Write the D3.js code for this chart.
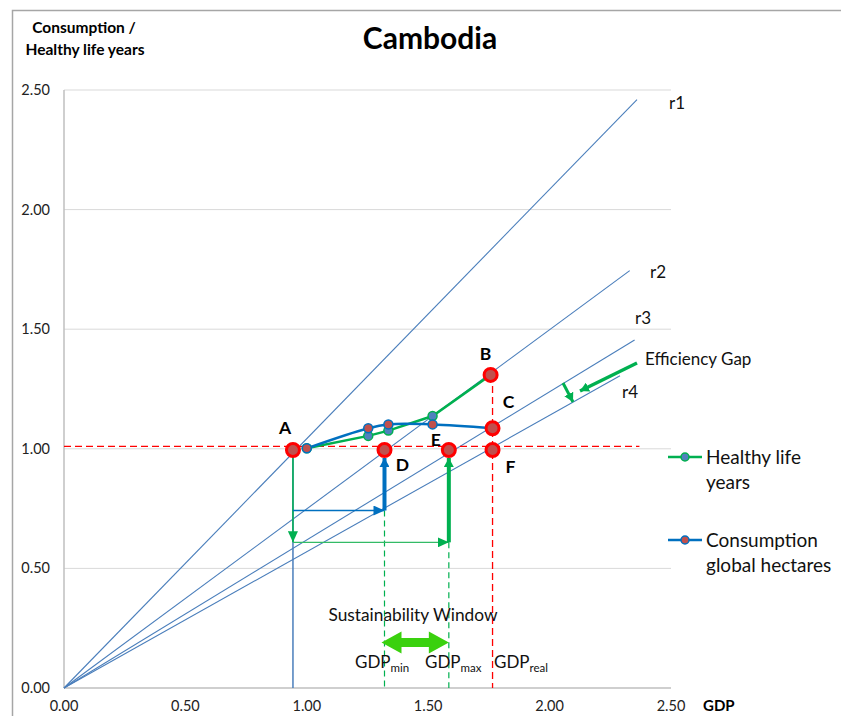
<!DOCTYPE html>
<html><head><meta charset="utf-8">
<script src="https://cdn.jsdelivr.net/npm/d3@7"></script>
<style>
body{margin:0;background:#fff;}
svg{display:block;font-family:Lato,"Open Sans",sans-serif;}
</style></head>
<body><svg id="c" width="841" height="716"></svg>
<script>
// ---- data ----
const xTicks = [0, 0.5, 1, 1.5, 2, 2.5];
const yTicks = [0, 0.5, 1, 1.5, 2, 2.5];
const rayNames = ["r1", "r2", "r3", "r4"];
const rayEndX = [2.36, 2.33, 2.35, 2.29];
const rayEndY = [2.46, 1.745, 1.455, 1.305];
const healthyX = [1.0, 1.253, 1.336, 1.518, 1.757];
const healthyY = [1.002, 1.054, 1.076, 1.137, 1.309];
const consX = [1.0, 1.253, 1.336, 1.518, 1.765];
const consY = [1.002, 1.086, 1.102, 1.102, 1.086];
const pointNames = ["A", "B", "C", "D", "E", "F"];
const pointX = [0.943, 1.757, 1.765, 1.32, 1.585, 1.765];
const pointY = [0.995, 1.309, 1.086, 0.995, 0.995, 0.995];
const refY = 1.01, refXEnd = 2.37;
const gdpA = 0.943, gdpMin = 1.32, gdpMax = 1.585, gdpReal = 1.765;
const blueStepY = 0.742, greenStepY = 0.609;
const seriesNames = ["Healthy life years", "Consumption global hectares"];

// ---- layout ----
const svg = d3.select("#c");
const x = d3.scaleLinear().domain([0, 2.5]).range([64, 671]);
const y = d3.scaleLinear().domain([0, 2.5]).range([688, 90]);
const BLUE = "#4a7ebb", GREEN = "#00b050", DBLUE = "#0070c0", RED = "#ff0000";

// outer border
svg.append("path").attr("d", "M12.5,716 V10.5 H841").attr("fill", "none").attr("stroke", "#a6a6a6").attr("stroke-width", 1.5);

// defs markers
const defs = svg.append("defs");
function mk(id, color, w, h) {
  defs.append("marker").attr("id", id).attr("viewBox", `0 0 ${w} ${h}`)
    .attr("refX", w).attr("refY", h / 2).attr("markerWidth", w).attr("markerHeight", h)
    .attr("markerUnits", "userSpaceOnUse").attr("orient", "auto")
    .append("path").attr("d", `M0,0 L${w},${h/2} L0,${h} Z`).attr("fill", color);
}
mk("abl", DBLUE, 11, 10);
mk("agr", GREEN, 11, 10);
mk("ablT", DBLUE, 9, 10);
mk("agrT", GREEN, 9, 10);

// gridlines
svg.append("g").selectAll("line").data(yTicks.filter(d => d > 0)).join("line")
  .attr("x1", x(0)).attr("x2", x(2.5)).attr("y1", d => y(d)).attr("y2", d => y(d))
  .attr("stroke", "#d9d9d9").attr("stroke-width", 1);
// axes lines
svg.append("line").attr("x1", x(0)).attr("x2", x(0)).attr("y1", y(0)).attr("y2", y(2.5)).attr("stroke", "#bfbfbf").attr("stroke-width", 1.5);
svg.append("line").attr("x1", x(0)).attr("x2", x(2.5)).attr("y1", y(0)).attr("y2", y(0)).attr("stroke", "#bfbfbf").attr("stroke-width", 1.5);

// tick labels
svg.append("g").selectAll("text").data(yTicks).join("text")
  .attr("x", 50).attr("y", d => y(d)).attr("dy", "0.35em").attr("text-anchor", "end")
  .attr("font-size", 14.5).attr("fill", "#222").text(d => d.toFixed(2));
svg.append("g").selectAll("text").data(xTicks).join("text")
  .attr("x", d => x(d)).attr("y", 706).attr("dy", "0.35em").attr("text-anchor", "middle")
  .attr("font-size", 14.5).attr("fill", "#222").text(d => d.toFixed(2));

// titles
svg.append("text").attr("x", 430).attr("y", 49).attr("text-anchor", "middle").attr("font-size", 30).attr("font-weight", "bold").text("Cambodia");
svg.append("text").attr("x", 84).attr("y", 33).attr("text-anchor", "middle").attr("font-size", 15.5).attr("font-weight", "bold").text("Consumption /");
svg.append("text").attr("x", 85).attr("y", 55).attr("text-anchor", "middle").attr("font-size", 15.5).attr("font-weight", "bold").text("Healthy life years");
svg.append("text").attr("x", 703).attr("y", 711).attr("font-size", 15).attr("font-weight", "bold").text("GDP");

// rays
rayNames.forEach((n, i) => {
  svg.append("line").attr("x1", x(0)).attr("y1", y(0)).attr("x2", x(rayEndX[i])).attr("y2", y(rayEndY[i]))
    .attr("stroke", BLUE).attr("stroke-width", 1.1);
});
const rayLabelPos = [[669, 109], [650, 278], [635, 324], [622, 398]];
rayNames.forEach((n, i) => {
  svg.append("text").attr("x", rayLabelPos[i][0]).attr("y", rayLabelPos[i][1]).attr("font-size", 17).attr("fill", "#111").text(n);
});

// efficiency gap
svg.append("text").attr("x", 645).attr("y", 365).attr("font-size", 17).attr("fill", "#111").text("Efficiency Gap");
svg.append("line").attr("x1", 637).attr("y1", 363).attr("x2", 580).attr("y2", 391).attr("stroke", GREEN).attr("stroke-width", 3.5).attr("marker-end", "url(#agrT)");
svg.append("line").attr("x1", 563).attr("y1", 383).attr("x2", 573).attr("y2", 402).attr("stroke", GREEN).attr("stroke-width", 3).attr("marker-end", "url(#agrT)");

// red dashed reference lines
svg.append("line").attr("x1", x(0)).attr("x2", x(refXEnd)).attr("y1", y(refY)).attr("y2", y(refY))
  .attr("stroke", RED).attr("stroke-width", 1.3).attr("stroke-dasharray", "7,4");
svg.append("line").attr("x1", x(gdpReal)).attr("x2", x(gdpReal)).attr("y1", y(pointY[1])).attr("y2", y(0))
  .attr("stroke", RED).attr("stroke-width", 1.3).attr("stroke-dasharray", "7,4");

// green dashed GDPmin / GDPmax
svg.append("line").attr("x1", x(gdpMin)).attr("x2", x(gdpMin)).attr("y1", y(blueStepY)).attr("y2", y(0))
  .attr("stroke", GREEN).attr("stroke-width", 1.2).attr("stroke-dasharray", "6,4");
svg.append("line").attr("x1", x(gdpMax)).attr("x2", x(gdpMax)).attr("y1", y(greenStepY)).attr("y2", y(0))
  .attr("stroke", GREEN).attr("stroke-width", 1.2).attr("stroke-dasharray", "6,4");

// vertical from A to axis (blue) and green down arrow
svg.append("line").attr("x1", x(gdpA)).attr("x2", x(gdpA)).attr("y1", y(pointY[0])).attr("y2", y(0)).attr("stroke", BLUE).attr("stroke-width", 1.5);
svg.append("line").attr("x1", x(gdpA)).attr("x2", x(gdpA)).attr("y1", y(pointY[0])).attr("y2", y(greenStepY)).attr("stroke", GREEN).attr("stroke-width", 1.5).attr("marker-end", "url(#agr)");
// horizontal arrows
svg.append("line").attr("x1", x(gdpA)).attr("x2", x(gdpMin)).attr("y1", y(blueStepY)).attr("y2", y(blueStepY)).attr("stroke", DBLUE).attr("stroke-width", 1.3).attr("marker-end", "url(#abl)");
svg.append("line").attr("x1", x(gdpA)).attr("x2", x(gdpMax)).attr("y1", y(greenStepY)).attr("y2", y(greenStepY)).attr("stroke", "#33bb66").attr("stroke-width", 1.3).attr("marker-end", "url(#agr)");
// thick vertical arrows
svg.append("line").attr("x1", x(gdpMin)).attr("x2", x(gdpMin)).attr("y1", y(blueStepY)).attr("y2", y(pointY[3]) + 8).attr("stroke", DBLUE).attr("stroke-width", 4).attr("marker-end", "url(#ablT)");
svg.append("line").attr("x1", x(gdpMax)).attr("x2", x(gdpMax)).attr("y1", y(greenStepY)).attr("y2", y(pointY[4]) + 8).attr("stroke", GREEN).attr("stroke-width", 4).attr("marker-end", "url(#agrT)");

// series lines
const hData = healthyX.map((d, i) => [d, healthyY[i]]);
const cData = consX.map((d, i) => [d, consY[i]]);
svg.append("path").attr("d", d3.line().x(d => x(d[0])).y(d => y(d[1]))(hData)).attr("fill", "none").attr("stroke", GREEN).attr("stroke-width", 2.5);
svg.append("path").attr("d", d3.line().curve(d3.curveCatmullRom).x(d => x(d[0])).y(d => y(d[1]))(cData)).attr("fill", "none").attr("stroke", DBLUE).attr("stroke-width", 2.5);
svg.append("g").selectAll("circle").data(hData).join("circle").attr("cx", d => x(d[0])).attr("cy", d => y(d[1])).attr("r", 4.5).attr("fill", "#4f81bd").attr("stroke", GREEN).attr("stroke-width", 1.5);
svg.append("g").selectAll("circle").data(cData).join("circle").attr("cx", d => x(d[0])).attr("cy", d => y(d[1])).attr("r", 4.5).attr("fill", "#c0504d").attr("stroke", DBLUE).attr("stroke-width", 1.5);

// key points
svg.append("g").selectAll("circle").data(pointNames).join("circle")
  .attr("cx", (d, i) => x(pointX[i])).attr("cy", (d, i) => y(pointY[i])).attr("r", 6.5)
  .attr("fill", "#c0504d").attr("stroke", RED).attr("stroke-width", 3);
const labelOff = [[-8, -29], [-5, -27], [16, -33], [18, 8], [-13, -17], [18, 10]];
svg.append("g").selectAll("text").data(pointNames).join("text")
  .attr("x", (d, i) => x(pointX[i]) + labelOff[i][0]).attr("y", (d, i) => y(pointY[i]) + labelOff[i][1])
  .attr("dy", "0.72em").attr("text-anchor", "middle").attr("font-size", 17.5).attr("font-weight", "bold").text(d => d);

// sustainability window
svg.append("text").attr("x", 413).attr("y", 621).attr("text-anchor", "middle").attr("font-size", 17.3).attr("fill", "#111").text("Sustainability Window");
const wy = 642.5, xl = x(gdpMin) - 3, xr = x(gdpMax);
svg.append("path").attr("d", `M${xl},${wy} L${xl+20},${wy-11} L${xl+20},${wy-4.5} L${xr-20},${wy-4.5} L${xr-20},${wy-11} L${xr},${wy} L${xr-20},${wy+11} L${xr-20},${wy+4.5} L${xl+20},${wy+4.5} L${xl+20},${wy+11} Z`)
  .attr("fill", "#3ad10e");
function gdpLabel(xp, sub) {
  const t = svg.append("text").attr("x", xp).attr("y", 668).attr("font-size", 17).attr("fill", "#111");
  t.append("tspan").text("GDP");
  t.append("tspan").attr("font-size", 11.5).attr("dy", 4).text(sub);
}
gdpLabel(355, "min");
gdpLabel(425, "max");
gdpLabel(494, "real");

// legend
const legY = [457, 540];
const legCol = [[GREEN, "#4f81bd"], [DBLUE, "#c0504d"]];
const legLines = [["Healthy life", "years"], ["Consumption", "global hectares"]];
seriesNames.forEach((n, i) => {
  svg.append("line").attr("x1", 668).attr("x2", 702).attr("y1", legY[i]).attr("y2", legY[i]).attr("stroke", legCol[i][0]).attr("stroke-width", 2.5);
  svg.append("circle").attr("cx", 685).attr("cy", legY[i]).attr("r", 4).attr("fill", legCol[i][1]).attr("stroke", legCol[i][0]).attr("stroke-width", 1.5);
  legLines[i].forEach((s, j) => {
    svg.append("text").attr("x", 706).attr("y", legY[i] + j * 25).attr("dy", "0.35em").attr("font-size", 19).attr("fill", "#111").text(s);
  });
});
</script></body></html>
